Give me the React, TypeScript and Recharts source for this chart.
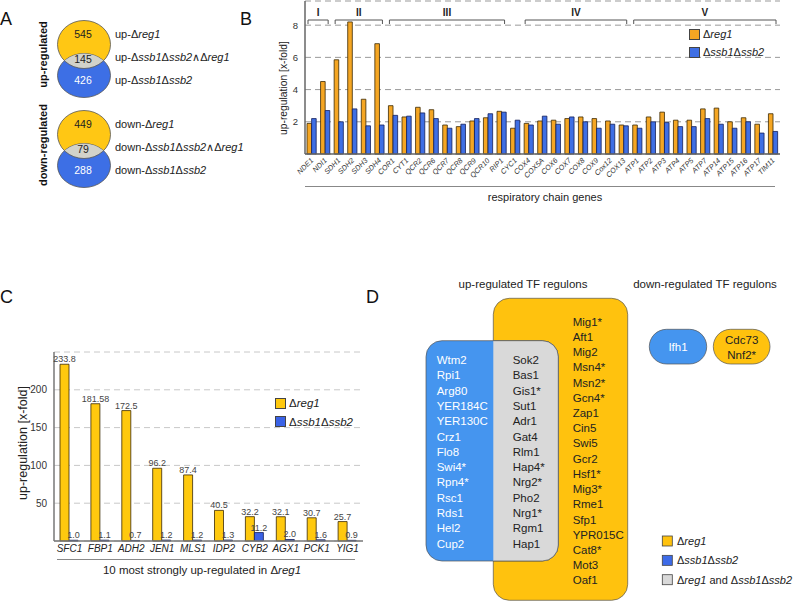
import React from 'react';
import { BarChart, Bar, XAxis, YAxis, CartesianGrid, Legend, LabelList, ReferenceArea } from 'recharts';

const FONT = '"Liberation Sans", Arial, Helvetica, sans-serif';

// panel A: Venn counts [Δreg1 only, overlap, Δssb1Δssb2 only]
const upCounts = [545, 145, 426];
const downCounts = [449, 79, 288];

// panel B: respiratory chain genes
const chainGenes = [
  'NDE1', 'NDI1', 'SDH1', 'SDH2', 'SDH3', 'SDH4', 'COR1', 'CYT1', 'QCR2', 'QCR6', 'QCR7', 'QCR8',
  'QCR9', 'QCR10', 'RIP1', 'CYC1', 'COX4', 'COX5A', 'COX6', 'COX7', 'COX8', 'COX9', 'Cox12', 'COX13',
  'ATP1', 'ATP2', 'ATP3', 'ATP4', 'ATP5', 'ATP7', 'ATP14', 'ATP15', 'ATP16', 'ATP17', 'TIM11',
];
const chainReg1 = [
  1.9, 4.5, 5.85, 8.2, 3.4, 6.85, 3.0, 2.3, 2.9, 2.75, 1.8, 1.7,
  2.05, 2.25, 2.65, 1.6, 1.9, 2.05, 2.1, 2.2, 2.3, 2.2, 2.05, 1.8,
  1.8, 2.3, 2.6, 2.1, 2.1, 2.8, 2.85, 2.0, 2.25, 1.85, 2.5,
];
const chainSsb = [
  2.2, 2.7, 2.0, 2.8, 1.75, 1.8, 2.4, 2.35, 2.55, 2.2, 1.6, 1.85,
  2.2, 2.5, 2.6, 2.1, 1.8, 2.35, 1.85, 2.3, 2.0, 1.6, 1.85, 1.75,
  1.6, 2.0, 1.95, 1.7, 1.7, 2.2, 1.85, 1.6, 2.0, 1.3, 1.4,
];
const complexNames = ['I', 'II', 'III', 'IV', 'V'];
const complexFirst = ['NDE1', 'SDH1', 'COR1', 'COX4', 'ATP1'];
const complexLast = ['NDI1', 'SDH4', 'RIP1', 'COX13', 'TIM11'];

// panel C: 10 most strongly up-regulated genes
const topGenes = ['SFC1', 'FBP1', 'ADH2', 'JEN1', 'MLS1', 'IDP2', 'CYB2', 'AGX1', 'PCK1', 'YIG1'];
const topReg1 = [233.8, 181.58, 172.5, 96.2, 87.4, 40.5, 32.2, 32.1, 30.7, 25.7];
const topSsb = [1.0, 1.1, 0.7, 1.2, 1.2, 1.3, 11.2, 2.0, 1.6, 0.9];

// panel D: TF regulons
const ssbOnlyTFs = ['Wtm2', 'Rpi1', 'Arg80', 'YER184C', 'YER130C', 'Crz1', 'Flo8', 'Swi4*', 'Rpn4*', 'Rsc1', 'Rds1', 'Hel2', 'Cup2'];
const sharedTFs = ['Sok2', 'Bas1', 'Gis1*', 'Sut1', 'Adr1', 'Gat4', 'Rlm1', 'Hap4*', 'Nrg2*', 'Pho2', 'Nrg1*', 'Rgm1', 'Hap1'];
const reg1OnlyTFs = ['Mig1*', 'Aft1', 'Mig2', 'Msn4*', 'Msn2*', 'Gcn4*', 'Zap1', 'Cin5', 'Swi5', 'Gcr2', 'Hsf1*', 'Mig3*', 'Rme1', 'Sfp1', 'YPR015C', 'Cat8*', 'Mot3', 'Oaf1'];
const downSsbTFs = ['Ifh1'];
const downReg1TFs = ['Cdc73', 'Nnf2*'];

const chainData = chainGenes.map((gene, i) => ({ gene, reg1: chainReg1[i], ssb: chainSsb[i] }));
const topData = topGenes.map((gene, i) => ({ gene, reg1: topReg1[i], ssb: topSsb[i] }));

const B_ORANGE = '#F5A623';
const B_BLUE = '#3F6FE4';
const C_YELLOW = '#FFC90E';
const C_BLUE = '#3A62E6';
const D_YELLOW = '#FFC20E';
const D_BLUE = '#4595EF';
const D_GRAY = '#D9D9D9';

// split "up-Δssb1Δssb2" into upright / italic pieces
const splitStrain = (t: string) => t.split(/(Δ[a-z]+\d)/).filter((s) => s.length > 0);

const StrainSvg = ({ text }: { text: string }) => (
  <>
    {splitStrain(text).map((p, i) =>
      p.startsWith('Δ') ? (
        <React.Fragment key={i}>
          <tspan>Δ</tspan>
          <tspan fontStyle="italic">{p.slice(1)}</tspan>
        </React.Fragment>
      ) : (
        <tspan key={i} style={{ whiteSpace: 'pre' }}>{p}</tspan>
      )
    )}
  </>
);

const StrainHtml = ({ text }: { text: string }) => (
  <>
    {splitStrain(text).map((p, i) =>
      p.startsWith('Δ') ? (
        <span key={i}>Δ<i>{p.slice(1)}</i></span>
      ) : (
        <span key={i} style={{ whiteSpace: 'pre' }}>{p}</span>
      )
    )}
  </>
);

const legendItems = [
  { name: 'Δreg1', key: 'reg1' },
  { name: 'Δssb1Δssb2', key: 'ssb' },
];

const ChartLegend = ({ colors, gap, size }: { colors: string[]; gap: number; size: number }) => (
  <div style={{ fontFamily: FONT, fontSize: size, color: '#222' }}>
    {legendItems.map((it, i) => (
      <div key={it.key} style={{ display: 'flex', alignItems: 'center', height: gap }}>
        <span style={{ width: 9, height: 9, background: colors[i], border: '1px solid #444', marginRight: 3 }} />
        <StrainHtml text={it.name} />
      </div>
    ))}
  </div>
);

const Bracket = (p: any) => {
  const l = p.x + 3;
  const r = p.x + p.width - 4;
  return (
    <g>
      <path d={`M${l},${p.y + p.height} V${p.y} H${r} V${p.y + p.height}`} fill="none" stroke="#555" strokeWidth={1} />
      <text x={(l + r) / 2} y={p.y - 4} textAnchor="middle" fontSize={10} fontWeight="bold" fill="#222" fontFamily={FONT}>
        {p.label}
      </text>
    </g>
  );
};

const ChainTick = ({ x, y, payload }: any) => (
  <text
    transform={`translate(${x + 2},${y + 3}) rotate(-45)`}
    textAnchor="end"
    fontSize={7.3}
    fontStyle="italic"
    fill="#333"
    fontFamily={FONT}
  >
    {payload.value}
  </text>
);

const TopTick = ({ x, y, payload }: any) => (
  <text x={x} y={y} dy="0.71em" textAnchor="middle" fontSize={10} fontStyle="italic" fill="#222" fontFamily={FONT}>
    {payload.value}
  </text>
);

const fmt = (v: any) => Number(v).toFixed(2).replace(/0$/, '');

const Venn = ({ counts, dy, prefix }: { counts: number[]; dy: number; prefix: string }) => {
  const cx = 84;
  const yY = 44.5 + dy;
  const yB = 75.5 + dy;
  const id = `venn-${prefix}`;
  return (
    <g fontFamily={FONT}>
      <defs>
        <clipPath id={id}>
          <ellipse cx={cx} cy={yB} rx={26.5} ry={22} />
        </clipPath>
      </defs>
      <ellipse cx={cx} cy={yY} rx={26.5} ry={24} fill="#FFC714" stroke="#555" strokeWidth={0.8} />
      <ellipse cx={cx} cy={yB} rx={26.5} ry={22} fill="#3D6FE5" stroke="#555" strokeWidth={0.8} />
      <ellipse cx={cx} cy={yY} rx={26.5} ry={24} fill="#D2D2CA" stroke="#555" strokeWidth={0.8} clipPath={`url(#${id})`} />
      <text x={83} y={33.5 + dy} fontSize={10.5} textAnchor="middle" dominantBaseline="central" fill="#222">{counts[0]}</text>
      <text x={83} y={59 + dy} fontSize={10.5} textAnchor="middle" dominantBaseline="central" fill="#222">{counts[1]}</text>
      <text x={83} y={80 + dy} fontSize={10.5} textAnchor="middle" dominantBaseline="central" fill="#fff">{counts[2]}</text>
      <text x={115} y={33.5 + dy} fontSize={11} dominantBaseline="central" fill="#222"><StrainSvg text={`${prefix}-Δreg1`} /></text>
      <text x={115} y={57 + dy} fontSize={11} dominantBaseline="central" fill="#222"><StrainSvg text={`${prefix}-Δssb1Δssb2∧Δreg1`} /></text>
      <text x={115} y={79.5 + dy} fontSize={11} dominantBaseline="central" fill="#222"><StrainSvg text={`${prefix}-Δssb1Δssb2`} /></text>
    </g>
  );
};

export default function App() {
  return (
    <div style={{ position: 'absolute', left: 0, top: 0, width: 796, height: 604, background: '#fff', overflow: 'hidden', fontFamily: FONT }}>
      {/* panel B */}
      <div style={{ position: 'absolute', left: 250, top: 0 }}>
        <BarChart width={546} height={186} data={chainData} margin={{ top: 1, right: 16, bottom: 0, left: 0 }} barGap={0} barSize={4.6}>
          <CartesianGrid vertical={false} stroke="#999" strokeDasharray="6 4" />
          <XAxis dataKey="gene" interval={0} height={32} tickSize={0} tickMargin={4} tick={<ChainTick />} axisLine={{ stroke: '#666', strokeWidth: 1.5 }} tickLine={false} />
          <XAxis xAxisId="top" orientation="top" dataKey="gene" height={0} tick={false} tickLine={false} axisLine={{ stroke: '#888' }} />
          <YAxis domain={[0, 9.5]} ticks={[2, 4, 6, 8]} width={55} tickSize={0} tickMargin={7} tickLine={false} axisLine={{ stroke: '#666', strokeWidth: 1.5 }} tick={{ fontSize: 9.5, fill: '#333', fontFamily: FONT }} />
          <YAxis yAxisId="right" orientation="right" width={0} tick={false} tickLine={false} axisLine={{ stroke: '#888' }} />
          {complexNames.map((c, i) => (
            <ReferenceArea
              key={c}
              x1={complexFirst[i]}
              x2={complexLast[i]}
              y1={8.07}
              y2={8.32}
              ifOverflow="visible"
              shape={(p: any) => <Bracket {...p} label={c} />}
            />
          ))}
          <Bar dataKey="reg1" fill={B_ORANGE} stroke="#3b2a05" strokeWidth={0.8} isAnimationActive={false} />
          <Bar dataKey="ssb" fill={B_BLUE} stroke="#14205a" strokeWidth={0.8} isAnimationActive={false} />
          <Legend
            layout="vertical"
            align="center"
            verticalAlign="middle"
            wrapperStyle={{ left: 439, top: 25, width: 100 }}
            content={() => <ChartLegend colors={[B_ORANGE, B_BLUE]} gap={18} size={11} />}
          />
        </BarChart>
      </div>

      {/* panel C */}
      <div style={{ position: 'absolute', left: 0, top: 340 }}>
        <BarChart width={380} height={230} data={topData} margin={{ top: 12, right: 17, bottom: 0, left: 0 }} barGap={0} barSize={9}>
          <CartesianGrid vertical={false} stroke="#c8c8c8" strokeDasharray="6 4" />
          <XAxis dataKey="gene" interval={0} height={29} tickSize={0} tickMargin={4} tick={<TopTick />} tickLine={false} axisLine={{ stroke: '#777', strokeWidth: 1.5 }} />
          <XAxis xAxisId="top" orientation="top" dataKey="gene" height={0} tick={false} tickLine={false} axisLine={{ stroke: '#aaa' }} />
          <YAxis domain={[0, 250]} ticks={[50, 100, 150, 200]} width={54} tickSize={0} tickMargin={7} tickLine={false} axisLine={{ stroke: '#777', strokeWidth: 1.5 }} tick={{ fontSize: 10, fill: '#333', fontFamily: FONT }} />
          <YAxis yAxisId="right" orientation="right" width={0} tick={false} tickLine={false} axisLine={{ stroke: '#aaa' }} />
          <Bar dataKey="reg1" fill={C_YELLOW} stroke="#3b2a05" strokeWidth={0.8} isAnimationActive={false}>
            <LabelList dataKey="reg1" position="top" offset={2} formatter={fmt} style={{ fontSize: 9, fill: '#444', fontFamily: FONT }} />
          </Bar>
          <Bar dataKey="ssb" fill={C_BLUE} stroke="#14205a" strokeWidth={0.8} isAnimationActive={false}>
            <LabelList dataKey="ssb" position="top" offset={2} formatter={fmt} style={{ fontSize: 9, fill: '#444', fontFamily: FONT }} />
          </Bar>
          <Legend
            layout="vertical"
            align="center"
            verticalAlign="middle"
            wrapperStyle={{ left: 275, top: 54, width: 100 }}
            content={() => <ChartLegend colors={[C_YELLOW, C_BLUE]} gap={18.5} size={11.5} />}
          />
        </BarChart>
      </div>

      {/* panels A, D and free text */}
      <svg width={796} height={604} style={{ position: 'absolute', left: 0, top: 0, pointerEvents: 'none' }} fontFamily={FONT}>
        <text x={0} y={25} fontSize={18} fill="#111">A</text>
        <text x={240} y={25} fontSize={18} fill="#111">B</text>
        <text x={0} y={303} fontSize={18} fill="#111">C</text>
        <text x={366} y={303} fontSize={18} fill="#111">D</text>

        {/* A */}
        <text transform="translate(43,54.5) rotate(-90)" textAnchor="middle" dominantBaseline="central" fontSize={11} fontWeight="bold" fill="#111">up-regulated</text>
        <text transform="translate(43,145) rotate(-90)" textAnchor="middle" dominantBaseline="central" fontSize={11} fontWeight="bold" fill="#111">down-regulated</text>
        <Venn counts={upCounts} dy={0} prefix="up" />
        <Venn counts={downCounts} dy={90} prefix="down" />

        {/* B titles */}
        <text transform="translate(283,88) rotate(-90)" textAnchor="middle" dominantBaseline="central" fontSize={10.3} fill="#222">up-regulation [x-fold]</text>
        <line x1={305} x2={775} y1={186.5} y2={186.5} stroke="#888" strokeWidth={1} />
        <text x={545} y={197} textAnchor="middle" dominantBaseline="central" fontSize={11} fill="#222">respiratory chain genes</text>

        {/* C titles */}
        <text transform="translate(23,443) rotate(-90)" textAnchor="middle" dominantBaseline="central" fontSize={12.5} fill="#222">up-regulation [x-fold]</text>
        <line x1={57} x2={355} y1={559.5} y2={559.5} stroke="#888" strokeWidth={1} />
        <text x={202} y={570} textAnchor="middle" dominantBaseline="central" fontSize={11.5} fill="#222">
          <StrainSvg text="10 most strongly up-regulated in Δreg1" />
        </text>

        {/* D */}
        <defs>
          <clipPath id="sharedClip">
            <rect x={493.3} y={330} width={80} height={240} />
          </clipPath>
        </defs>
        <text x={523} y={284} textAnchor="middle" dominantBaseline="central" fontSize={11.5} fill="#222">up-regulated TF regulons</text>
        <text x={705} y={283.5} textAnchor="middle" dominantBaseline="central" fontSize={11.5} fill="#222">down-regulated TF regulons</text>
        <rect x={493.3} y={298.3} width={134.4} height={302} rx={16} fill={D_YELLOW} stroke="#555" strokeWidth={0.7} />
        <rect x={426} y={340.7} width={132.3} height={220.3} rx={16} fill={D_BLUE} stroke="#555" strokeWidth={0.7} />
        <rect x={426} y={340.7} width={132.3} height={220.3} rx={16} fill={D_GRAY} stroke="#555" strokeWidth={0.7} clipPath="url(#sharedClip)" />
        {ssbOnlyTFs.map((t, i) => (
          <text key={t} x={436.7} y={360 + i * 15.3} dominantBaseline="central" fontSize={11.5} fill="#fff">{t}</text>
        ))}
        {sharedTFs.map((t, i) => (
          <text key={t} x={512.7} y={360 + i * 15.3} dominantBaseline="central" fontSize={11.5} fill="#222">{t}</text>
        ))}
        {reg1OnlyTFs.map((t, i) => (
          <text key={t} x={572.7} y={321.7 + i * 15.22} dominantBaseline="central" fontSize={11.5} fill="#222">{t}</text>
        ))}
        <rect x={649.3} y={329.3} width={57.4} height={34.7} rx={17.3} fill={D_BLUE} stroke="#555" strokeWidth={0.7} />
        {downSsbTFs.map((t, i) => (
          <text key={t} x={678} y={347 + i * 15.3} textAnchor="middle" dominantBaseline="central" fontSize={11.5} fill="#fff">{t}</text>
        ))}
        <rect x={713.3} y={329.3} width={56.7} height={34.7} rx={17.3} fill={D_YELLOW} stroke="#555" strokeWidth={0.7} />
        {downReg1TFs.map((t, i) => (
          <text key={t} x={741.7} y={339.5 + i * 15.3} textAnchor="middle" dominantBaseline="central" fontSize={11.5} fill="#222">{t}</text>
        ))}
        {[
          { c: D_YELLOW, t: 'Δreg1' },
          { c: '#3D6BE8', t: 'Δssb1Δssb2' },
          { c: D_GRAY, t: 'Δreg1 and Δssb1Δssb2' },
        ].map((it, i) => (
          <g key={it.t}>
            <rect x={662.3} y={536 + i * 19.35} width={10} height={10} fill={it.c} stroke="#444" strokeWidth={0.8} />
            <text x={677} y={541 + i * 19.35} dominantBaseline="central" fontSize={11} fill="#222"><StrainSvg text={it.t} /></text>
          </g>
        ))}
      </svg>
    </div>
  );
}
